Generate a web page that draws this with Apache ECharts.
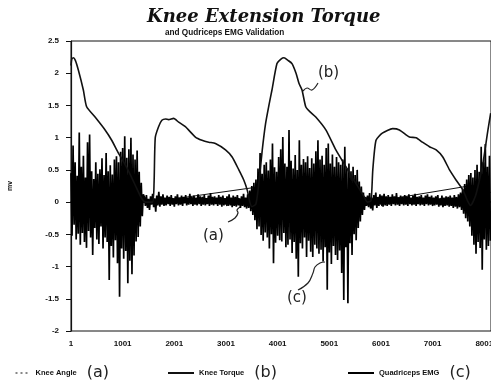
<!DOCTYPE html>
<html>
<head>
<meta charset="utf-8">
<script src="https://cdn.jsdelivr.net/npm/echarts@6/dist/echarts.min.js"></script>
<style>
html, body { margin: 0; padding: 0; background: #fff; }
#main { width: 491px; height: 385px; }
</style>
</head>
<body>
<div id="main"></div>
<script>
// tick labels of the sample axis (first sample is 1)
const xTickLabels = ['1', '1001', '2001', '3001', '4001', '5001', '6001', '7001', '8001'];

// knee angle (a)
const angleSamples = [0, 142, 1404, 1546, 3579, 3676, 5715, 5812, 7773, 7909, 8124];
const angleValues = [0.24, 0.18, 0.0, 0.0, 0.23, 0.2, 0.0, 0.0, 0.26, 0.22, 0.15];

// knee torque (b)
const torqueSamples = [0, 16, 45, 84, 142, 239, 303, 466, 660, 788, 918, 1035, 1152, 1268, 1365, 1443,
    1579, 1608, 1631, 1695, 1759, 1831, 1889, 1986, 2084, 2214, 2408, 2536, 2666, 2796, 2991, 3119,
    3249, 3346, 3410, 3462, 3501, 3579, 3637, 3701, 3767, 3831, 3890, 3987, 4064, 4123, 4200, 4278,
    4356, 4414, 4472, 4544, 4628, 4738, 4933, 5127, 5321, 5515, 5676, 5735, 5807, 5842, 5904, 6026,
    6226, 6357, 6551, 6680, 6803, 6939, 7069, 7197, 7327, 7456, 7585, 7676, 7734, 7831, 7909, 7974,
    8071, 8124];
const torqueValues = [2.12, 2.22, 2.24, 2.2, 2.05, 1.74, 1.48, 1.32, 1.12, 0.96, 0.76, 0.6, 0.42, 0.22, 0.06, 0.0,
    0.0, 0.3, 1.0, 1.17, 1.27, 1.29, 1.28, 1.3, 1.24, 1.17, 1.01, 0.96, 0.93, 0.91, 0.81, 0.7,
    0.5, 0.34, 0.19, 0.0, -0.07, -0.03, 0.3, 0.8, 1.22, 1.5, 1.74, 2.15, 2.22, 2.24, 2.2, 2.15,
    2.0, 1.84, 1.74, 1.48, 1.4, 1.32, 1.12, 0.81, 0.55, 0.29, 0.08, 0.0, 0.02, 0.5, 0.96, 1.07,
    1.14, 1.12, 1.01, 1.0, 0.93, 0.86, 0.81, 0.7, 0.5, 0.34, 0.19, 0.02, -0.05, 0.1, 0.35, 0.6,
    1.12, 1.38];

// quadriceps EMG (c), one value every 20 samples from each segment start
const emgStep = 20;
const emgStarts = [0, 1420, 3580, 5740, 7740];
const emgBurst1 = [
    0.45, -0.52, 0.88, -0.35, 0.62, -0.58, 0.41, -0.49, 1.08, -0.66,
    0.55, -0.48, 0.72, -0.62, 0.38, -0.71, 0.93, -0.45, 1.05, -0.55,
    0.48, -0.82, 0.36, -0.4, 0.62, -0.58, 0.44, -0.65, 0.51, -0.38,
    0.68, -0.72, 0.42, -0.55, 0.76, -0.62, 0.48, -1.21, 0.57, -0.68,
    0.43, -0.86, 0.66, -0.59, 0.71, -0.95, 0.62, -1.47, 0.78, -0.72,
    0.84, -0.88, 1.02, -0.76, 0.69, -1.26, 0.82, -0.91, 1.0, -1.12,
    0.74, -0.83, 0.66, -0.61, 0.8, -0.54, 0.47, -0.38, 0.3, -0.22,
    0.12];
const emgQuiet1 = [
    0.08, -0.06, 0.11, -0.09, 0.05, -0.12, 0.09, -0.04, 0.13, -0.08,
    0.06, -0.15, 0.1, -0.05, 0.16, -0.07, 0.09, -0.04, 0.12, -0.06,
    0.07, -0.05, 0.1, -0.03, 0.08, -0.06, 0.11, -0.04, 0.06, -0.07,
    0.09, -0.03, 0.12, -0.05, 0.07, -0.04, 0.1, -0.06, 0.08, -0.02,
    0.11, -0.05, 0.07, -0.04, 0.13, -0.03, 0.08, -0.06, 0.1, -0.04,
    0.07, -0.05, 0.12, -0.03, 0.09, -0.06, 0.08, -0.04, 0.11, -0.05,
    0.06, -0.03, 0.1, -0.06, 0.14, -0.04, 0.08, -0.05, 0.09, -0.03,
    0.07, -0.06, 0.11, -0.04, 0.08, -0.07, 0.1, -0.05, 0.06, -0.04,
    0.09, -0.06, 0.12, -0.05, 0.07, -0.08, 0.1, -0.06, 0.08, -0.07,
    0.11, -0.05, 0.06, -0.09, 0.09, -0.06, 0.13, -0.08, 0.07, -0.1,
    0.12, -0.09, 0.18, -0.14, 0.25, -0.2, 0.3, -0.28];
const emgBurst2 = [
    0.35, -0.42, 0.52, -0.38, 0.76, -0.51, 0.44, -0.6, 0.58, -0.47,
    0.62, -0.55, 0.49, -0.72, 0.66, -0.5, 0.91, -0.95, 0.54, -0.63,
    0.47, -0.52, 0.7, -0.59, 0.82, -0.61, 1.01, -0.48, 0.6, -0.7,
    0.55, -0.66, 1.12, -0.58, 0.64, -0.79, 0.52, -0.62, 0.73, -0.88,
    0.5, -1.16, 0.96, -0.64, 0.58, -0.72, 0.67, -0.55, 0.62, -0.85,
    0.71, -0.6, 0.53, -0.77, 0.68, -0.85, 0.6, -0.66, 0.79, -0.72,
    0.96, -0.8, 0.66, -0.74, 0.72, -0.92, 0.58, -0.7, 0.84, -1.36,
    0.91, -0.78, 0.6, -0.96, 0.74, -0.68, 0.55, -0.82, 0.7, -0.9,
    0.62, -0.75, 0.58, -1.1, 0.66, -1.52, 0.86, -0.7, 0.52, -1.57,
    0.6, -0.64, 0.48, -0.82, 0.55, -0.5, 0.42, -0.59, 0.5, -0.4,
    0.32, -0.3, 0.24, -0.2, 0.15, -0.12, 0.08, -0.06];
const emgQuiet2 = [
    0.1, -0.08, 0.14, -0.1, 0.07, -0.13, 0.11, -0.05, 0.15, -0.09,
    0.08, -0.06, 0.12, -0.04, 0.1, -0.07, 0.13, -0.05, 0.09, -0.06,
    0.11, -0.04, 0.08, -0.06, 0.12, -0.03, 0.09, -0.05, 0.14, -0.04,
    0.07, -0.06, 0.1, -0.03, 0.08, -0.05, 0.11, -0.04, 0.09, -0.06,
    0.12, -0.03, 0.07, -0.05, 0.1, -0.04, 0.13, -0.06, 0.08, -0.03,
    0.09, -0.05, 0.11, -0.04, 0.07, -0.06, 0.1, -0.03, 0.12, -0.05,
    0.08, -0.04, 0.1, -0.06, 0.07, -0.05, 0.09, -0.04, 0.11, -0.07,
    0.06, -0.05, 0.1, -0.08, 0.07, -0.06, 0.09, -0.05, 0.08, -0.07,
    0.1, -0.06, 0.07, -0.09, 0.11, -0.07, 0.08, -0.1, 0.12, -0.08,
    0.15, -0.12, 0.2, -0.18, 0.28, -0.25, 0.35, -0.3, 0.42, -0.38];
const emgBurst3 = [
    0.45, -0.52, 0.38, -0.66, 0.5, -0.8, 0.58, -0.62, 0.47, -0.71,
    0.86, -1.05, 0.62, -0.58, 0.9, -0.74, 0.55, -0.68, 0.72, -0.6];

const pairs = (xs, ys) => xs.map((x, i) => [x, ys[i]]);

const emgData = [];
[emgBurst1, emgQuiet1, emgBurst2, emgQuiet2, emgBurst3].forEach((seg, k) => {
    seg.forEach((v, i) => emgData.push([emgStarts[k] + i * emgStep, v]));
});

const labelFont = { color: '#111', fontFamily: 'Liberation Sans', fontWeight: 'bold', fontSize: 8 };

const legendBase = {
    bottom: -1,
    itemWidth: 26,
    itemHeight: 8,
    itemGap: 5,
    itemStyle: { opacity: 0 },
    textStyle: {
        color: '#111',
        rich: {
            n: { fontFamily: 'Liberation Sans', fontWeight: 'bold', fontSize: 7.5, color: '#111' },
            h: { fontFamily: 'DejaVu Sans', fontSize: 16, color: '#222', padding: [0, 0, 0, 10] }
        }
    }
};

const annot = (txt, x, y, pts) => [
    { type: 'text', left: x, top: y, style: { text: txt, font: '15px "DejaVu Sans"', fill: '#222' } },
    { type: 'polyline', shape: { points: pts, smooth: 0.4 }, style: { stroke: '#222', lineWidth: 1.2, fill: null } }
];

const option = {
    animation: false,
    backgroundColor: '#fff',
    title: [
        {
            text: 'Knee Extension Torque',
            left: 142,
            top: 3,
            textStyle: { fontFamily: 'DejaVu Serif', fontStyle: 'italic', fontWeight: 'bold', fontSize: 18, color: '#111' }
        },
        {
            text: 'and Qudriceps EMG Validation',
            left: 160,
            top: 24,
            textStyle: { fontFamily: 'Liberation Sans', fontWeight: 'bold', fontSize: 8.2, color: '#111' }
        }
    ],
    grid: {
        left: 71,
        right: 0,
        top: 41,
        bottom: 54,
        outerBoundsMode: 'none',
        show: true,
        borderColor: '#111',
        borderWidth: 1
    },
    xAxis: {
        type: 'value',
        min: 0,
        max: 8130,
        interval: 1000,
        axisLine: { lineStyle: { color: '#111', width: 1.5 } },
        axisTick: { length: 4, lineStyle: { color: '#111' } },
        splitLine: { show: false },
        axisLabel: {
            ...labelFont,
            margin: 9,
            showMaxLabel: false,
            formatter: (v) => xTickLabels[Math.round(v / 1000)] || ''
        }
    },
    yAxis: {
        type: 'value',
        min: -2,
        max: 2.5,
        interval: 0.5,
        name: 'mv',
        nameLocation: 'middle',
        nameGap: 57,
        nameTextStyle: { color: '#111', fontFamily: 'Liberation Sans', fontWeight: 'bold', fontSize: 7 },
        axisLine: { lineStyle: { color: '#111', width: 1.2 } },
        axisTick: { length: 5, lineStyle: { color: '#111' } },
        splitLine: { show: false },
        axisLabel: { ...labelFont, margin: 12 }
    },
    legend: [
        Object.assign({}, legendBase, { left: 10, itemWidth: 15, data: ['Knee Angle'], formatter: '{n|Knee Angle}{h|(a)}',
            lineStyle: { type: [2, 3], width: 1 } }),
        Object.assign({}, legendBase, { left: 162, data: ['Knee Torque'], formatter: '{n|Knee Torque}{h|(b)}' }),
        Object.assign({}, legendBase, { left: 342, data: ['Quadriceps EMG'], formatter: '{n|Quadriceps EMG}{h|(c)}',
            lineStyle: { width: 2 } })
    ],
    series: [
        {
            name: 'Knee Angle',
            type: 'line',
            data: pairs(angleSamples, angleValues),
            symbol: 'none',
            color: '#111',
            lineStyle: { color: '#111', width: 1 },
            z: 1
        },
        {
            name: 'Quadriceps EMG',
            type: 'line',
            data: emgData,
            symbol: 'none',
            sampling: null,
            color: '#000',
            lineStyle: { color: '#000', width: 1.7 },
            z: 2
        },
        {
            name: 'Knee Torque',
            type: 'line',
            data: pairs(torqueSamples, torqueValues),
            symbol: 'none',
            smooth: 0.2,
            color: '#111',
            lineStyle: { color: '#111', width: 1.6 },
            z: 4
        }
    ],
    graphic: [].concat(
        annot('(a)', 203, 229, [[228, 222], [235, 218], [238, 213], [237, 210], [240, 207]]),
        annot('(b)', 318, 66, [[318, 83], [312, 90], [307, 88], [303, 91]]),
        annot('(c)', 287, 291, [[298, 290], [308, 283], [313, 273], [315, 267], [320, 263], [325, 262]])
    )
};

const myChart = echarts.init(document.getElementById('main'));
myChart.setOption(option);
</script>
</body>
</html>
